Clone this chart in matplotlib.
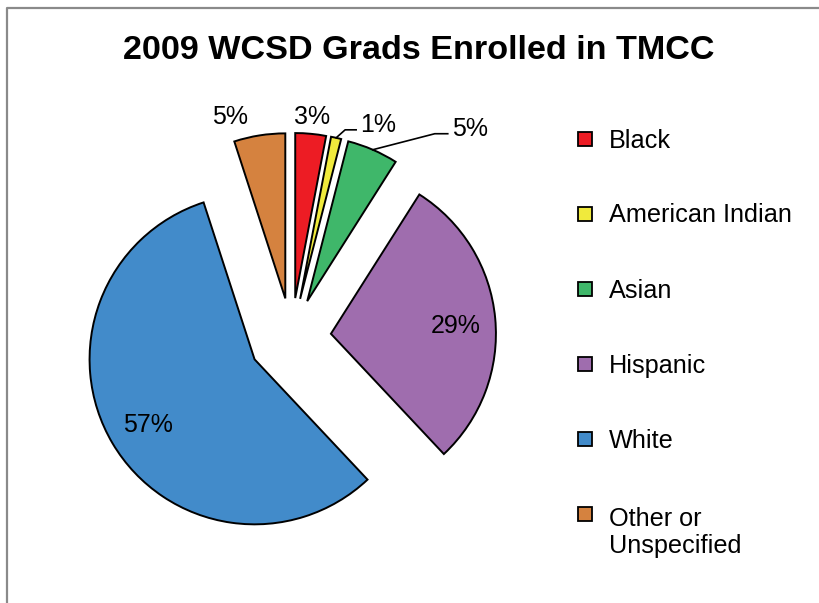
import numpy as np
import matplotlib.pyplot as plt
from matplotlib.patches import Rectangle
from matplotlib.lines import Line2D

plt.rcParams['font.family'] = ['Liberation Sans', 'DejaVu Sans']

# chart data
groups = ["Black", "American Indian", "Asian", "Hispanic", "White", "Other or\nUnspecified"]
shares = [3, 1, 5, 29, 57, 5]
pct_labels = ["3%", "1%", "5%", "29%", "57%", "5%"]
colors = ["#ED1C24", "#F0EA3C", "#3FB76A", "#9F6DAE", "#428BCA", "#D5823F"]
title = "2009 WCSD Grads Enrolled in TMCC"

W, H = 819, 603
R = 165.0              # pie radius in pixels
cx, cy = 291.5, 337.5  # pie centre in pixels (from top-left)
px = 1.0 / R           # one pixel in data units

fig = plt.figure(figsize=(W / 100, H / 100), dpi=100)
ax = fig.add_axes([0, 0, 1, 1])

explode = [0.24, 0.24, 0.24, 0.24, 0.26, 0.24]
wedges, _ = ax.pie(shares, colors=colors, explode=explode, startangle=90,
                   counterclock=False,
                   wedgeprops=dict(edgecolor='black', linewidth=1.4))
ax.set_xlim(-cx / R, (W - cx) / R)
ax.set_ylim(-(H - cy) / R, cy / R)
ax.set_aspect('auto')
ax.axis('off')

# how each percentage label sits: inside / outside / leader line
# (mode, radial distance, extra angle, leader knee dx, dy, leader end dx)
label_style = [
    ("out", 1.10, 0, 0, 0, 0),
    ("lead", 0, 0, 9, 8, 20),
    ("lead", 0, 0, 62, 16, 75),
    ("in", 0.76, -2, 0, 0, 0),
    ("in", 0.76, 1, 0, 0, 0),
    ("out", 1.15, 8, 0, 0, 0),
]

for w, lab, st in zip(wedges, pct_labels, label_style):
    mode, rd, dang, kx, ky, ex = st
    mid = np.deg2rad((w.theta1 + w.theta2) / 2)
    x0, y0 = w.center
    if mode in ("in", "out"):
        a = mid + np.deg2rad(dang)
        ax.text(x0 + rd * np.cos(a), y0 + rd * np.sin(a), lab,
                ha='center', va='center', fontsize=18)
    else:
        ex0 = x0 + np.cos(mid)
        ey0 = y0 + np.sin(mid)
        xs = [ex0, ex0 + kx * px, ex0 + ex * px]
        ys = [ey0, ey0 + ky * px, ey0 + ky * px]
        ax.add_line(Line2D(xs, ys, color='black', linewidth=1.2))
        ax.text(xs[-1] + 4 * px, ys[-1] + 5 * px, lab,
                ha='left', va='center', fontsize=18)

# title
fig.text(418.5 / W, 1 - 59 / H, title, ha='center', va='baseline',
         fontsize=24.6, fontweight='bold')

# legend drawn by hand so the two-line entry keeps its box at the first line
for i, (g, c) in enumerate(zip(groups, colors)):
    yc = 139 + 75 * i
    extra = 31 * g.count("\n")   # baseline of a multi-line text is its last line
    fig.add_artist(Rectangle((578 / W, 1 - (yc + 7) / H), 14 / W, 14 / H,
                             transform=fig.transFigure, facecolor=c,
                             edgecolor='black', linewidth=1.3))
    fig.text(609 / W, 1 - (yc + 8.5 + extra) / H, g, ha='left', va='baseline',
             fontsize=18.2, linespacing=1.2)

# outer chart border (top and left edges visible)
fig.add_artist(Line2D([7 / W, 7 / W, 1], [0, 1 - 7.5 / H, 1 - 7.5 / H],
                      transform=fig.transFigure, color='#8A8A8A', linewidth=1.6))

fig.savefig("out.png", dpi=100)
